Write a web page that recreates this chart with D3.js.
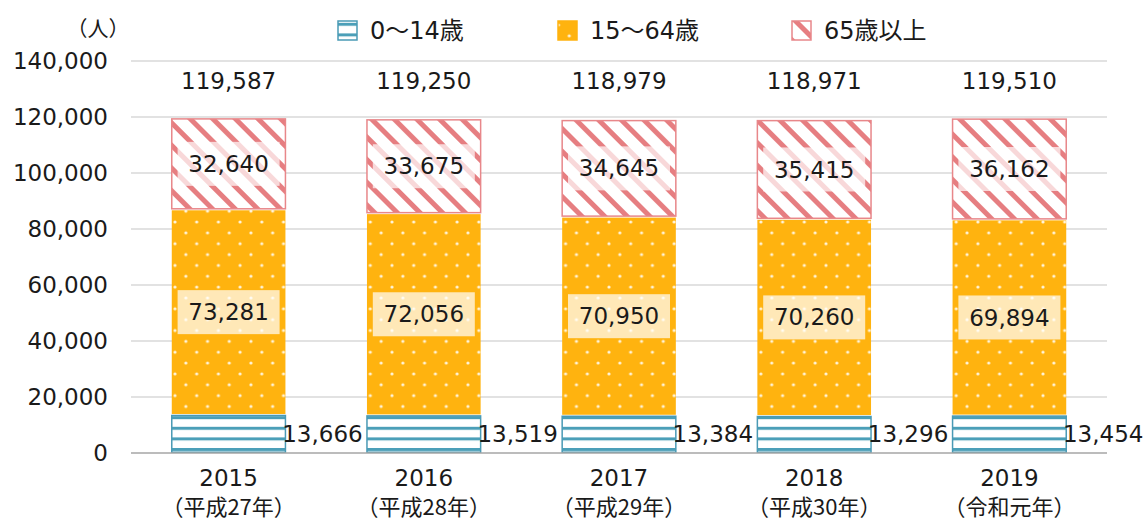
<!DOCTYPE html>
<html>
<head>
<meta charset="utf-8">
<script src="https://cdn.jsdelivr.net/npm/d3@7"></script>
<style>
  body { margin: 0; background: #fff; }
  svg { display: block; }
  text { font-family: "DejaVu Sans", "Noto Sans CJK JP", sans-serif; fill: #1a1a1a; }
  text.cjk { font-family: "Noto Sans CJK JP", sans-serif; }
</style>
</head>
<body>
<svg id="chart" width="1147" height="524"></svg>
<script>
// data
var years = ["2015", "2016", "2017", "2018", "2019"];
var eras = ["（平成27年）", "（平成28年）", "（平成29年）", "（平成30年）", "（令和元年）"];
var young = [13666, 13519, 13384, 13296, 13454];     // 0～14歳
var working = [73281, 72056, 70950, 70260, 69894];   // 15～64歳
var elderly = [32640, 33675, 34645, 35415, 36162];   // 65歳以上
var totals = [119587, 119250, 118979, 118971, 119510];
var seriesNames = ["0～14歳", "15～64歳", "65歳以上"];
var yTicks = [0, 20000, 40000, 60000, 80000, 100000, 120000, 140000];

function drawChart() {
  var svg = d3.select("#chart");
  var plotLeft = 131, plotRight = 1107, plotTop = 61, plotBottom = 453;

  var x = d3.scaleBand().domain(years).range([plotLeft, plotRight]).paddingInner(0.41).paddingOuter(0.205);
  var y = d3.scaleLinear().domain([0, 140000]).range([plotBottom, plotTop]);
  var fmt = d3.format(",");

  // patterns
  var defs = svg.append("defs");
  var pYoung = defs.append("pattern").attr("id", "pYoung")
    .attr("patternUnits", "userSpaceOnUse").attr("width", 20).attr("height", 10.6)
    .attr("y", plotBottom - 5);
  pYoung.append("rect").attr("width", 20).attr("height", 10.6).attr("fill", "#fff");
  pYoung.append("rect").attr("y", 0).attr("width", 20).attr("height", 3).attr("fill", "#4b9fb8");

  var pWork = defs.append("pattern").attr("id", "pWork")
    .attr("patternUnits", "userSpaceOnUse").attr("width", 21.7).attr("height", 21.7)
    .attr("x", 175).attr("y", 5);
  pWork.append("rect").attr("width", 21.7).attr("height", 21.7).attr("fill", "#ffb30f");
  [[0, 0], [21.7, 0], [0, 21.7], [21.7, 21.7], [10.85, 10.85]].forEach(function(p) {
    pWork.append("circle").attr("cx", p[0]).attr("cy", p[1]).attr("r", 1.6).attr("fill", "#fff").attr("fill-opacity", 0.85);
  });

  var pOld = defs.append("pattern").attr("id", "pOld")
    .attr("patternUnits", "userSpaceOnUse").attr("width", 16).attr("height", 16)
    .attr("patternTransform", "rotate(-45)");
  pOld.append("rect").attr("width", 16).attr("height", 16).attr("fill", "#fff");
  pOld.append("rect").attr("width", 5).attr("height", 16).attr("fill", "#e67e81");

  // gridlines
  svg.append("g").selectAll("line").data(yTicks.slice(1)).enter().append("line")
    .attr("x1", plotLeft).attr("x2", plotRight)
    .attr("y1", function(d) { return y(d); }).attr("y2", function(d) { return y(d); })
    .attr("stroke", "#d9d9d9").attr("stroke-width", 1.3);

  // y axis labels
  svg.append("g").selectAll("text").data(yTicks).enter().append("text")
    .attr("x", 108).attr("y", function(d) { return y(d); })
    .attr("dy", "0.35em").attr("text-anchor", "end")
    .style("font-size", "23px")
    .text(function(d) { return fmt(d); });

  svg.append("text").attr("class", "cjk").attr("x", 98).attr("y", 29).attr("dy", "0.35em")
    .attr("text-anchor", "middle").style("font-size", "21px").text("（人）");

  // stacked bars
  var stacks = years.map(function(yr, i) {
    return [
      { y0: 0, y1: young[i], fill: "url(#pYoung)", stroke: "#4a9ab5" },
      { y0: young[i], y1: young[i] + working[i], fill: "url(#pWork)", stroke: "none" },
      { y0: young[i] + working[i], y1: young[i] + working[i] + elderly[i], fill: "url(#pOld)", stroke: "#e8878a" }
    ].map(function(s) { s.year = yr; return s; });
  });

  var bars = svg.append("g");
  stacks.forEach(function(segs) {
    bars.selectAll(null).data(segs).enter().append("rect")
      .attr("x", function(d) { return x(d.year) + 0.75; })
      .attr("width", x.bandwidth() - 1.5)
      .attr("y", function(d) { return y(d.y1) + 0.75; })
      .attr("height", function(d) { return y(d.y0) - y(d.y1) - 1.5; })
      .attr("fill", function(d) { return d.fill; })
      .attr("stroke", function(d) { return d.stroke; })
      .attr("stroke-width", 1.5);
  });

  // baseline
  svg.append("line").attr("x1", plotLeft).attr("x2", plotRight).attr("y1", plotBottom).attr("y2", plotBottom)
    .attr("stroke", "#a6a6a6").attr("stroke-width", 1.5);

  // label with a pale box behind it
  function boxLabel(cx, cy, txt) {
    svg.append("rect").attr("x", cx - 51).attr("y", cy - 22).attr("width", 102).attr("height", 44)
      .attr("fill", "#fff").attr("fill-opacity", 0.7);
    svg.append("text").attr("x", cx).attr("y", cy).attr("dy", "0.35em")
      .attr("text-anchor", "middle").style("font-size", "23px").text(txt);
  }

  years.forEach(function(yr, i) {
    var cx = x(yr) + x.bandwidth() / 2;
    boxLabel(cx, y(young[i] + working[i] / 2), fmt(working[i]));
    boxLabel(cx, y(young[i] + working[i] + elderly[i] / 2), fmt(elderly[i]));
    svg.append("text").attr("x", x(yr) + x.bandwidth() - 4).attr("y", y(young[i] / 2)).attr("dy", "0.35em")
      .style("font-size", "23px").text(fmt(young[i]));
    svg.append("text").attr("x", cx).attr("y", y(133000)).attr("dy", "0.35em")
      .attr("text-anchor", "middle").style("font-size", "23px").text(fmt(totals[i]));
    svg.append("text").attr("x", cx).attr("y", 478).attr("dy", "0.35em")
      .attr("text-anchor", "middle").style("font-size", "23px").text(yr);
    svg.append("text").attr("class", "cjk").attr("x", cx).attr("y", 507).attr("dy", "0.35em")
      .attr("text-anchor", "middle").style("font-size", "22px").text(eras[i]);
  });

  // legend
  var legendX = [337, 557, 791];
  var legendFill = ["url(#pYoung)", "url(#pWork)", "url(#pOld)"];
  var legendStroke = ["#4a9ab5", "#ffb30f", "#e8878a"];
  seriesNames.forEach(function(name, i) {
    var g = svg.append("g").attr("transform", "translate(" + legendX[i] + ",20)");
    g.append("rect").attr("x", 1).attr("y", 1).attr("width", 19).attr("height", 19)
      .attr("fill", legendFill[i]).attr("stroke", legendStroke[i]).attr("stroke-width", 1.5);
    g.append("text").attr("x", 33).attr("y", 11).attr("dy", "0.35em")
      .style("font-size", "24px").text(name);
  });
}

drawChart();
</script>
</body>
</html>
